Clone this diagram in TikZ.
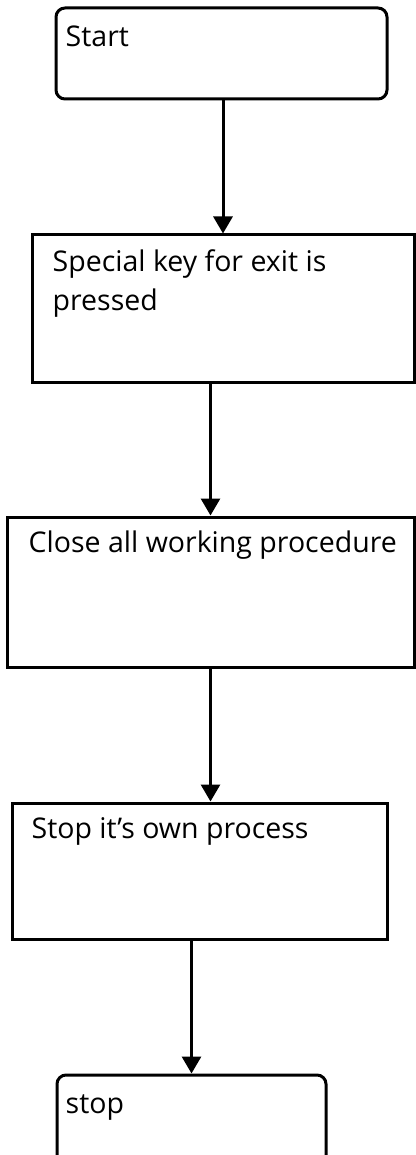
\documentclass[tikz,border=0pt]{standalone}
\usepackage{fontspec}
\setmainfont{Open Sans}
\usetikzlibrary{arrows.meta}
\begin{document}
\begin{tikzpicture}[x=1pt,y=-1pt,
        box/.style={draw,line width=3pt,inner sep=0pt},
        roundbox/.style={box,rounded corners=9pt},
        txt/.style={anchor=base west,inner sep=0pt,align=left,
                font=\fontsize{28.5}{39}\selectfont},
        arrow/.style={line width=3pt,-{Triangle[width=19pt,length=17pt]}}]
        \useasboundingbox (0,0) rectangle (415,1155);
        % boxes
        \node[roundbox,minimum width=331pt,minimum height=91pt] (start) at (221.5,53.5) {};
        \node[box,minimum width=382pt,minimum height=147pt] (key) at (223,308.5) {};
        \node[box,minimum width=407pt,minimum height=150pt] (close) at (210.5,592) {};
        \node[box,minimum width=375pt,minimum height=136pt] (own) at (199.5,871) {};
        \node[roundbox,minimum width=269pt,minimum height=110pt] (stop) at (191.5,1130) {};
        % texts
        \node[txt] (starttxt) at ([shift={(11,40)}]start.north west) {Start};
        \node[txt] (keytxt) at ([shift={(22,77)}]key.north west) {Special key for exit is\\pressed};
        \node[txt] (closetxt) at ([shift={(23,37)}]close.north west) {Close all working procedure};
        \node[txt] (owntxt) at ([shift={(21,37)}]own.north west) {Stop it’s own process};
        \node[txt] (stoptxt) at ([shift={(10,40)}]stop.north west) {stop};
        % arrows
        \draw[arrow] (start.south -| key.north) -- (key.north);
        \draw[arrow] (key.south -| close.north) -- (close.north);
        \draw[arrow] (close.south) -- (close.south |- own.north);
        \draw[arrow] (own.south -| stop.north) -- (stop.north);
\end{tikzpicture}
\end{document}
